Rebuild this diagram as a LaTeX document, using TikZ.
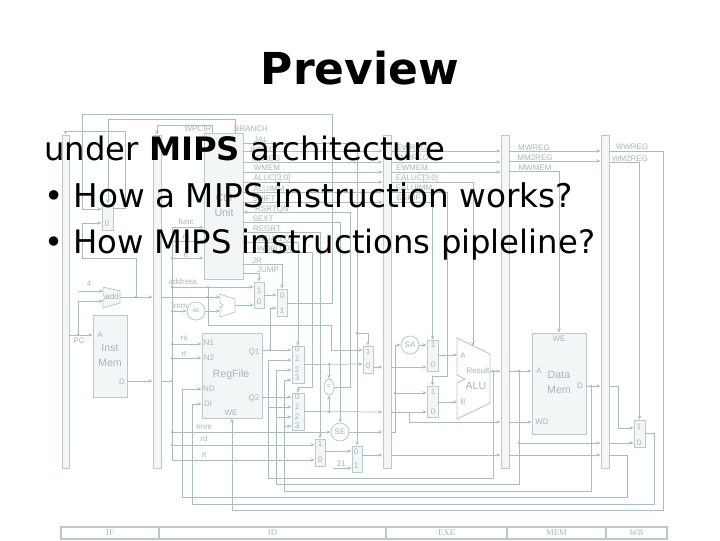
\documentclass[tikz,border=0pt]{standalone}
\usepackage{fontspec}
\setmainfont{DejaVu Sans}
\setsansfont{Liberation Sans}
\newfontfamily\stagefont{Liberation Serif}
\usetikzlibrary{shapes.geometric,arrows.meta,calc}
\definecolor{wirec}{HTML}{ABBEBE}
\definecolor{edgec}{HTML}{B8CACA}
\definecolor{fillc}{HTML}{F3F6F7}
\definecolor{inkc}{HTML}{A8B6B6}

\begin{document}
\begin{tikzpicture}[
  x=0.75pt, y=-0.75pt,
  wire/.style={draw=wirec, line width=0.55pt},
  arr/.style={wire, -{Stealth[length=3pt, width=2.6pt]}},
  hwbox/.style 2 args={draw=edgec, fill=fillc, line width=0.7pt, inner sep=0pt, minimum width=#1*0.75pt, minimum height=#2*0.75pt},
  hwround/.style={draw=edgec, fill=white, line width=0.6pt, circle, inner sep=0pt, minimum size=18*0.75pt, text=inkc, font=\sffamily\fontsize{6}{7}\selectfont},
  small/.style={inner sep=0pt, text=inkc, font=\sffamily\fontsize{6}{7}\selectfont},
  big/.style={inner sep=0pt, text=inkc, align=center, font=\sffamily\fontsize{8}{10}\selectfont},
  stage/.style={draw=edgec, line width=0.8pt, fill=white, inner sep=0pt, minimum height=12*0.75pt, text=inkc, font=\stagefont\fontsize{6.5}{8}\selectfont},
  head/.style={anchor=base, inner sep=0pt, font=\bfseries\fontsize{33}{38}\selectfont},
  body/.style={anchor=base west, inner sep=0pt, font=\fontsize{24.2}{28}\selectfont}
]
\useasboundingbox (0,0) rectangle (720,540);

% ---------- Pipeline registers ----------
\node[hwbox={7}{333}] (pc) at (65.5,301.5) {};
\node[hwbox={8}{333}] (ifid) at (157,301.5) {};
\node[hwbox={8}{333}] (idexe) at (387,301.5) {};
\node[hwbox={8}{333}] (exemem) at (505,301.5) {};
\node[hwbox={8}{333}] (memwb) at (605,301.5) {};

% ---------- Main blocks ----------
\node[hwbox={39}{146}] (ctrl) at (223.5,206) {};
\node[hwbox={34}{82}] (instmem) at (110,356) {};
\node[hwbox={60}{85}] (regfile) at (232,375.5) {};
\node[hwbox={54}{101}] (datamem) at (559,383.5) {};

% ---------- Multiplexers ----------
\node[hwbox={11}{26}] (muxpc) at (107.5,217) {};
\node[hwbox={10}{26}] (muxbr) at (259,295) {};
\node[hwbox={10}{27}] (muxjr) at (282,302.5) {};
\node[hwbox={12}{37}] (muxqa) at (298,364.5) {};
\node[hwbox={12}{37}] (muxqb) at (298,411.5) {};
\node[hwbox={10}{27}] (muxjal) at (368,359.5) {};
\node[hwbox={11}{31}] (muxa) at (432.5,355.5) {};
\node[hwbox={11}{31}] (muxb) at (432.5,401.5) {};
\node[hwbox={10}{27}] (muxrd) at (320,452.5) {};
\node[hwbox={10}{26}] (muxra) at (357,459) {};
\node[hwbox={11}{27}] (muxwb) at (639.5,433.5) {};

% ---------- Round blocks ----------
\node[hwround] (shift) at (196,311) {<\kern-1.5pt<};
\node[hwround] (se) at (340,432) {SE};
\node[hwround] (sa) at (410,345) {SA};
\node[draw=edgec, fill=white, line width=0.6pt, ellipse, inner sep=0pt, minimum width=10*0.75pt, minimum height=16*0.75pt, text=inkc, font=\sffamily\fontsize{6}{7}\selectfont] (eq) at (329,387) {=};

% ---------- Adders and ALU ----------
\draw[draw=edgec, fill=fillc, line width=0.6pt] (103,287) -- (120,291) -- (120,303) -- (103,308) -- (103,300) -- (106,297.5) -- (103,295) -- cycle;
\draw[draw=edgec, fill=white, line width=0.6pt] (220,294) -- (235,299) -- (235,312) -- (220,317) -- (220,308) -- (223,305) -- (220,303) -- cycle;
\draw[draw=edgec, fill=white, line width=0.7pt] (457,338) -- (490,354) -- (490,403) -- (457,419) -- (457,383) -- (465,379) -- (457,375) -- cycle;

% ---------- Control lines to the registers ----------
\foreach \ly in {151,162,172,182,192,202}
  \draw[arr] (ctrl.east |- 0,\ly) -- (idexe.west |- 0,\ly);
\foreach \ly in {151,162,172}
  \draw[arr] (idexe.east |- 0,\ly) -- (exemem.west |- 0,\ly);
\draw[arr] (idexe.east |- 0,182) -| (473,346);
\draw[arr] (idexe.east |- 0,192) -| (447,376) -| (muxb.north);
\draw[arr] (idexe.east |- 0,202) -| (muxa.north);
\draw[arr] (exemem.east |- 0,151) -- (memwb.west |- 0,151);
\draw[arr] (exemem.east |- 0,161) -- (memwb.west |- 0,161);
\draw[arr] (exemem.east |- 0,171) -| (datamem.north);

% ---------- Other control lines ----------
\draw[arr] (ctrl.east |- 0,143) -| (muxra.north);
\coordinate (jaljoin) at (357,333);
\draw[arr] (jaljoin) -| (muxjal.north);
\draw[arr] (ctrl.east |- 0,222) -| (se.north);
\draw[arr] (ctrl.east |- 0,232) -| (muxrd.north);
\draw[arr] (ctrl.east |- 0,242) -| (muxqa.north);
\draw[arr] (ctrl.east |- 0,252) -| (312,387) -| (muxqb.north);
\draw[arr] (ctrl.east |- 0,264) -| (muxjr.north);
\draw[arr] (ctrl.east |- 0,273) -| (muxbr.north);
\draw[arr] (eq.east) -| (350,212) -- (ctrl.east |- 0,212);
\draw[arr] (ctrl.north -| 212,0) |- (157,125) -- (ifid.north);
\draw[arr] (ctrl.north -| 235,0) |- (108,119) -- (muxpc.north -| 108,0);

% ---------- Next PC ----------
\draw[arr] (muxjr.east |- 0,303) -| (332,114) -| (82,209) -- (muxpc.west |- 0,209);
\draw[arr] (muxpc.east |- 0,208) -| (125,131) -| (pc.north);
\coordinate (pcout) at (78,335);
\draw[arr] (pc.east |- 0,335) -- (instmem.west |- 0,335);
\draw[arr] (pcout) |- (103,301);
\draw[arr] (79,291) -- (103,291);
\coordinate (pcadd) at (136,297);
\draw[arr] (120,297) -- (ifid.west |- 0,297);
\draw[arr] (pcadd) |- (82,258) |- (muxpc.west |- 0,223);
\draw[arr] (ifid.east |- 0,297) -- (220,297);

% ---------- Instruction fields ----------
\coordinate (instop) at (172,227);
\coordinate (insbot) at (172,460);
\draw[arr] (instmem.east |- 0,381) -- (ifid.west |- 0,381);
\draw[wire] (ifid.east |- 0,381) -- (172,381);
\draw[wire] (instop) -- (insbot);
\foreach \ly in {227,241,258}
  \draw[arr] (172,\ly) -- (ctrl.west |- 0,\ly);
\draw[arr] (172,344) -- (regfile.west |- 0,344);
\draw[arr] (172,358) -- (regfile.west |- 0,358);
\draw[arr] (172,311) -- (shift.west);
\draw[arr] (shift.east) -- (220,311);
\draw[arr] (172,287) -- (muxbr.west |- 0,287);
\draw[arr] (235,305) -- (muxbr.west |- 0,305);
\draw[arr] (muxbr.east) -- (muxjr.west |- 0,295);
\draw[arr] (172,432) -- (se.west);
\draw[arr] (172,445) -- (muxrd.west |- 0,445);
\draw[arr] (insbot) -- (muxrd.west |- 0,460);
\draw[arr] (muxrd.east |- 0,451) -- (muxra.west |- 0,451);
\draw[arr] (333,468) -- (muxra.west |- 0,468);
\draw[arr] (208,287) |- (331,325) |- (muxjal.west |- 0,350);

% ---------- Register outputs and forwarding ----------
\coordinate (qone) at (270,350);
\draw[arr] (regfile.east |- 0,350) -- (muxqa.west |- 0,350);
\draw[arr] (qone) |- (muxjr.west |- 0,308);
\draw[arr] (regfile.east |- 0,397) -- (muxqb.west |- 0,397);
\foreach \ly in {360,407}
  \draw[arr] (268,\ly) -- (muxqa.west |- 0,\ly);
\foreach \ly in {370,417}
  \draw[arr] (276,\ly) -- (muxqa.west |- 0,\ly);
\foreach \ly in {380,426}
  \draw[arr] (284,\ly) -- (muxqa.west |- 0,\ly);
\draw[wire] (268,360) |- (493,478) -- (493,371);
\draw[wire] (276,370) |- (519,484) -- (519,371);
\draw[wire] (284,380) |- (591,491) -- (591,386);
\draw[arr] (627,455) |- (182,497) |- (regfile.west |- 0,389);
\draw[arr] (muxwb.east) -| (654,504) -| (192,404) -- (regfile.west |- 0,404);
\draw[arr] (memwb.east |- 0,151) -| (663,510) -| (regfile.south);

% ---------- ID to EXE ----------
\draw[arr] (muxqa.east) -- (muxjal.west |- 0,364);
\draw[arr] (329,364) -- (eq.north);
\draw[arr] (muxqb.east) -- (idexe.west |- 0,412);
\draw[arr] (329,412) -- (eq.south);
\draw[arr] (muxjal.east |- 0,367) -- (idexe.west |- 0,367);
\draw[arr] (se.east) -- (idexe.west |- 0,432);
\draw[arr] (muxra.east |- 0,455) -- (idexe.west |- 0,455);

% ---------- EXE ----------
\draw[arr] (idexe.east |- 0,367) -- (muxa.west |- 0,367);
\draw[arr] (idexe.east |- 0,412) -- (muxb.west |- 0,412);
\draw[arr] (idexe.east |- 0,432) -| (395,345) -- (sa.west);
\draw[arr] (sa.east) -- (muxa.west |- 0,345);
\draw[arr] (395,393) -- (muxb.west |- 0,393);
\draw[arr] (muxa.east |- 0,355) -- (457,355);
\draw[arr] (muxb.east |- 0,402) -- (457,402);
\draw[arr] (409,412) |- (exemem.west |- 0,422);
\draw[arr] (490,371) -- (exemem.west |- 0,371);
\draw[arr] (idexe.east |- 0,455) -- (exemem.west |- 0,455);

% ---------- MEM and WB ----------
\draw[arr] (exemem.east |- 0,371) -- (datamem.west |- 0,371);
\draw[arr] (exemem.east |- 0,422) -- (datamem.west |- 0,422);
\draw[arr] (519,443) -- (memwb.west |- 0,443);
\draw[arr] (exemem.east |- 0,455) -- (memwb.west |- 0,455);
\draw[arr] (datamem.east |- 0,386) -- (memwb.west |- 0,386);
\draw[arr] (memwb.east |- 0,386) -| (618,428) -- (muxwb.west |- 0,428);
\draw[arr] (memwb.east |- 0,443) -- (muxwb.west |- 0,443);
\draw[wire] (memwb.east |- 0,455) -| (627,455);
\draw[arr] (memwb.east |- 0,162) -| (muxwb.north);

% junction dots
\foreach \jx/\jy in {78/335,136/297,172/241,172/258,172/287,172/311,172/344,172/358,172/381,172/432,172/445,208/287,208/297,270/350,329/364,329/412,357/333,395/393,493/371,519/371,519/443,591/386}
  \fill[wirec] (\jx,\jy) circle (1pt);

% ---------- Labels ----------
\foreach \lx/\ly/\lt [count=\li] in {
  251/129/BRANCH, 261/140/JAL, 263/150/WREG, 266/159/M2REG, 267/168/WMEM, 272/178/{ALUC[3:0]},
  269/189/ALUIMM, 264/199/SHIFT, 272/209/RSRTQN, 263/219/SEXT, 267/229/REGRT, 272/239/{FWDA[1:0]},
  272/249/{FWDB[1:0]}, 257/261/JR, 268/270/JUMP, 198/129/WPCIR,
  186/222/func, 186/237/rs, 186/255/rt, 183/282/address, 180/306/imm, 89/284/4, 112/297/add,
  79/341/PC, 100/335/A, 122/382/D, 184/338/rs, 184/354/rt, 204/427/Imm, 204/439/rd, 204/455/rt,
  209/343/N1, 209/358/N2, 209/389/ND, 208/404/DI, 254/352/Q1, 254/398/Q2, 231/413/WE,
  341/464/31, 463/356/A, 463/402/B, 478/371/Result, 559/339/WE, 539/371/A, 580/386/D, 542/422/WD,
  412/148/EWREG, 412/158/EM2REG, 412/168/EWMEM, 417/178/{EALUC[3:0]}, 414/188/EALUIMM, 411/198/ESHIFT,
  534/148/MWREG, 535/158/MM2REG, 535/168/MWMEM, 632/147/WWREG, 630/159/WM2REG,
  107/224/0, 259/291/1, 259/302/0, 282/296/0, 282/311/1,
  297/349/0, 297/359/1, 297/370/2, 297/378/3, 297/397/0, 297/407/1, 297/417/2, 297/426/3,
  368/352/1, 368/366/0, 433/345/1, 433/365/0, 433/392/1, 433/412/0,
  320/444/1, 320/460/0, 356/452/0, 356/466/1, 639/427/1, 639/443/0}
  \node[small] (lbl\li) at (\lx,\ly) {\lt};
\node[big] (ctrltext) at (224,205) {Ctrl\\[1pt]Unit};
\node[big] (insttext) at (110,355.5) {Inst\\[1pt]Mem};
\node[big] (regtext) at (231,375) {RegFile};
\node[big] (alutext) at (476,386) {ALU};
\node[big] (datatext) at (559,382.5) {Data\\[1pt]Mem};

% ---------- Stage strip ----------
\node[stage, minimum width=98*0.75pt] (ifs) at (110,533) {IF};
\node[stage, minimum width=227*0.75pt] (ids) at (272.5,533) {ID};
\node[stage, minimum width=121*0.75pt] (exes) at (446.5,533) {EXE};
\node[stage, minimum width=99*0.75pt] (mems) at (556.5,533) {MEM};
\node[stage, minimum width=61*0.75pt] (wbs) at (636.5,533) {WB};

% ---------- Slide text ----------
\node[head] (title) at (360,84) {Preview};
\node[body] (lineone) at (44,160) {under \textbf{MIPS} architecture};
\node[body, font=\fontsize{24.5}{28}\selectfont] (linetwo) at (44,207) {• How a MIPS instruction works?};
\node[body] (linethree) at (44,253) {• How MIPS instructions pipleline?};
\end{tikzpicture}
\end{document}
